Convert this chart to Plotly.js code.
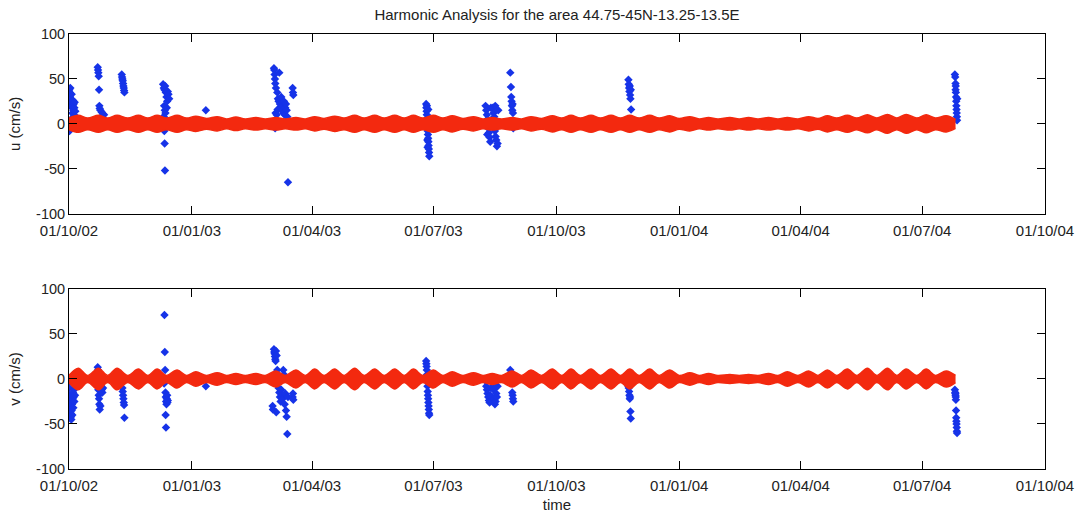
<!DOCTYPE html>
<html>
<head>
<meta charset="utf-8">
<script src="https://cdn.plot.ly/plotly-3.0.1.min.js"></script>
<style>html,body{margin:0;padding:0;background:#fff;}#chart{width:1079px;height:515px;}</style>
</head>
<body>
<div id="chart"></div>
<script>
// ---- Harmonic prediction: envelope (half-width) of the red band ----
const envDates = [
"2002-10-01","2002-10-08","2002-10-15","2002-10-23","2002-10-30","2002-11-06","2002-11-14","2002-11-22","2002-11-29","2002-12-06",
"2002-12-13","2002-12-21","2002-12-28","2003-01-04","2003-01-12","2003-01-20","2003-01-27","2003-02-03","2003-02-10","2003-02-18",
"2003-02-25","2003-03-05","2003-03-12","2003-03-20","2003-03-27","2003-04-03","2003-04-10","2003-04-18","2003-04-25","2003-05-03",
"2003-05-10","2003-05-18","2003-05-25","2003-06-02","2003-06-09","2003-06-16","2003-06-23","2003-07-01","2003-07-08","2003-07-15",
"2003-07-23","2003-07-31","2003-08-07","2003-08-14","2003-08-21","2003-08-29","2003-09-05","2003-09-12","2003-09-20","2003-09-28",
"2003-10-05","2003-10-12","2003-10-19","2003-10-27","2003-11-03","2003-11-11","2003-11-18","2003-11-25","2003-12-02","2003-12-10",
"2003-12-17","2003-12-25","2004-01-01","2004-01-09","2004-01-16","2004-01-23","2004-01-30","2004-02-08","2004-02-15","2004-02-22",
"2004-02-29","2004-03-08","2004-03-15","2004-03-22","2004-03-30","2004-04-07","2004-04-14","2004-04-21","2004-04-28","2004-05-06",
"2004-05-13","2004-05-21","2004-05-28","2004-06-05","2004-06-12","2004-06-19","2004-06-27","2004-07-04","2004-07-11","2004-07-19",
"2004-07-26"];
const uEnvHalf = [
6.5,9.5,6.5,9.5,6.5,9.5,6.5,9.5,6.5,9.5,
6.5,9.5,6.5,8.5,6,8,5.5,7.5,5.5,7,
5.5,7,5.5,7,5.5,8,6,8.5,6.5,9.5,
6.5,9.5,6.5,9.5,6.5,9.5,6.5,9.5,6.5,9,
6,8,5.5,7,5.5,7,5.5,8,6,9,
6.5,9.5,6.5,9.5,6.5,9.5,6.5,9.5,6.5,9.5,
6.5,9,6,8,5.5,7,5.5,7,5.5,7,
5.5,7,5.5,7,5.5,8,6,9,6.5,9.5,
6.5,10,6.5,10.5,6.5,10.5,6.5,10,6.5,9,
5];
const vEnvHalf = [
4,12,4,12,4,12,4,11,4,11,
4,10,4,8,4,7,4,6,4,6,
4,9,4,10,4,11,4,11,4,12,
4,11,4,11,4,11,4,10,4,8,
4,7,4,6,4,9,4,10,4,11,
4,11,4,11,4,11,4,11,4,11,
4,10,4,7,4,6,4,5,4,5,
4,6,4,8,4,9,4,10,4,11,
4,12,4,12,4,11,4,11,4,9,
4];

// ---- Observed u (cm/s) ----
const uObsTime = [
"2002-10-01 00:00","2002-10-01 03:00","2002-10-01 06:00","2002-10-01 09:00","2002-10-01 12:00","2002-10-01 18:00","2002-10-02 00:00","2002-10-02 06:00","2002-10-02 09:00","2002-10-02 12:00",
"2002-10-02 18:00","2002-10-03 00:00","2002-10-03 06:00","2002-10-03 12:00","2002-10-03 18:00","2002-10-04 00:00","2002-10-04 06:00","2002-10-04 12:00","2002-10-04 18:00","2002-10-05 00:00",
"2002-10-05 06:00","2002-10-05 18:00",
"2002-10-22 12:00","2002-10-22 18:00","2002-10-23 00:00","2002-10-23 06:00","2002-10-23 12:00","2002-10-23 18:00","2002-10-24 00:00","2002-10-24 12:00","2002-10-25 12:00","2002-10-26 12:00","2002-10-27 06:00",
"2002-11-09 12:00","2002-11-09 18:00","2002-11-10 00:00","2002-11-10 06:00","2002-11-10 12:00","2002-11-10 18:00","2002-11-11 00:00","2002-11-11 06:00","2002-11-11 12:00",
"2002-12-10 12:00","2002-12-10 18:00","2002-12-11 00:00","2002-12-11 06:00","2002-12-11 09:00","2002-12-11 12:00","2002-12-11 15:00","2002-12-11 18:00","2002-12-11 21:00","2002-12-12 00:00",
"2002-12-12 06:00","2002-12-12 12:00","2002-12-12 18:00","2002-12-13 00:00","2002-12-13 06:00","2002-12-13 12:00","2002-12-14 00:00","2002-12-14 12:00","2002-12-15 00:00",
"2003-01-11 12:00",
"2003-03-03 12:00","2003-03-03 18:00","2003-03-04 00:00","2003-03-04 06:00","2003-03-04 09:00","2003-03-04 12:00","2003-03-04 18:00","2003-03-05 00:00","2003-03-05 12:00","2003-03-06 00:00",
"2003-03-06 06:00","2003-03-06 12:00","2003-03-07 00:00","2003-03-07 12:00","2003-03-08 00:00","2003-03-08 12:00","2003-03-09 00:00","2003-03-09 12:00","2003-03-10 00:00","2003-03-10 12:00",
"2003-03-11 00:00","2003-03-11 12:00","2003-03-12 00:00","2003-03-12 12:00","2003-03-13 00:00","2003-03-13 12:00","2003-03-14 00:00","2003-03-17 12:00","2003-03-17 18:00","2003-03-18 00:00",
"2003-06-25 12:00","2003-06-25 16:00","2003-06-25 20:00","2003-06-26 00:00","2003-06-26 02:00","2003-06-26 04:00","2003-06-26 08:00","2003-06-26 10:00","2003-06-26 12:00","2003-06-26 14:00",
"2003-06-26 16:00","2003-06-26 20:00","2003-06-27 00:00","2003-06-27 02:00","2003-06-27 04:00","2003-06-27 08:00","2003-06-27 12:00","2003-06-27 16:00","2003-06-27 20:00",
"2003-08-09 00:00","2003-08-09 12:00","2003-08-10 00:00","2003-08-10 06:00","2003-08-10 12:00","2003-08-11 00:00","2003-08-11 12:00","2003-08-12 00:00","2003-08-12 12:00","2003-08-13 00:00",
"2003-08-14 12:00","2003-08-15 00:00","2003-08-15 12:00","2003-08-16 00:00","2003-08-16 06:00","2003-08-16 12:00","2003-08-17 00:00","2003-08-17 12:00","2003-08-18 00:00","2003-08-18 12:00",
"2003-08-27 12:00","2003-08-28 00:00","2003-08-28 06:00","2003-08-28 12:00","2003-08-28 18:00","2003-08-29 00:00","2003-08-29 06:00","2003-08-29 12:00","2003-08-29 18:00",
"2003-11-24 00:00","2003-11-24 06:00","2003-11-24 12:00","2003-11-24 18:00","2003-11-25 00:00","2003-11-25 06:00","2003-11-25 12:00","2003-11-25 18:00","2003-11-26 00:00",
"2004-07-25 12:00","2004-07-25 18:00","2004-07-26 00:00","2004-07-26 01:00","2004-07-26 03:00","2004-07-26 06:00","2004-07-26 09:00","2004-07-26 12:00","2004-07-26 15:00","2004-07-26 18:00",
"2004-07-26 21:00","2004-07-27 00:00","2004-07-27 03:00","2004-07-27 06:00"];
const uObsVal = [
2,-3,38,-8,35,30,40,28,5,22,
25,33,18,12,20,26,15,22,10,18,
24,14,
63,60,57,53,38,20,17,15,13,11,10,
55,52,50,48,45,42,40,37,35,
44,8,40,20,-8,38,-22,15,-52,42,
12,35,5,30,18,25,36,33,28,
15,
62,60,55,50,-5,45,12,40,10,35,
16,28,25,57,22,18,30,15,20,12,
25,10,18,22,15,8,-65,40,35,32,
22,18,14,10,20,6,2,-18,-4,-26,
-8,-12,-16,16,-20,-24,-28,-32,-36,
20,15,10,-12,5,-5,-10,-15,-20,18,
18,12,8,-8,20,-14,-18,-25,-22,15,
57,41,30,25,20,15,22,12,-5,
49,44,40,36,42,32,28,38,16,
55,52,45,38,42,35,30,25,20,16,
12,8,4,28];

// ---- Observed v (cm/s) ----
const vObsTime = [
"2002-10-01 00:00","2002-10-01 06:00","2002-10-01 12:00","2002-10-01 18:00","2002-10-02 00:00","2002-10-02 06:00","2002-10-02 12:00","2002-10-02 18:00","2002-10-03 00:00","2002-10-03 06:00",
"2002-10-03 12:00","2002-10-03 18:00","2002-10-04 00:00","2002-10-04 06:00","2002-10-04 12:00","2002-10-04 18:00","2002-10-05 00:00","2002-10-05 12:00","2002-10-06 00:00",
"2002-10-22 12:00","2002-10-22 18:00","2002-10-23 00:00","2002-10-23 06:00","2002-10-23 12:00","2002-10-23 18:00","2002-10-24 00:00","2002-10-24 12:00","2002-10-25 00:00","2002-10-25 12:00",
"2002-10-26 00:00","2002-10-26 12:00",
"2002-11-10 00:00","2002-11-10 06:00","2002-11-10 12:00","2002-11-10 18:00","2002-11-11 00:00","2002-11-11 06:00","2002-11-11 12:00",
"2002-12-11 06:00","2002-12-11 12:00","2002-12-11 18:00","2002-12-12 00:00","2002-12-12 06:00","2002-12-12 09:00","2002-12-12 12:00","2002-12-12 15:00","2002-12-12 18:00","2002-12-13 00:00",
"2002-12-13 06:00","2002-12-13 12:00","2002-12-13 18:00","2002-12-14 00:00",
"2003-01-11 12:00",
"2003-03-02 12:00","2003-03-02 18:00","2003-03-03 12:00","2003-03-03 18:00","2003-03-04 00:00","2003-03-04 06:00","2003-03-04 12:00","2003-03-04 18:00","2003-03-05 00:00","2003-03-05 06:00",
"2003-03-05 12:00","2003-03-06 00:00","2003-03-06 12:00","2003-03-07 00:00","2003-03-07 12:00","2003-03-08 00:00","2003-03-08 12:00","2003-03-09 00:00","2003-03-09 12:00","2003-03-10 00:00",
"2003-03-10 12:00","2003-03-11 00:00","2003-03-11 12:00","2003-03-12 00:00","2003-03-12 12:00","2003-03-13 00:00","2003-03-13 12:00","2003-03-14 00:00","2003-03-17 12:00","2003-03-17 18:00",
"2003-03-18 00:00",
"2003-06-25 12:00","2003-06-25 16:00","2003-06-25 20:00","2003-06-26 00:00","2003-06-26 04:00","2003-06-26 08:00","2003-06-26 12:00","2003-06-26 16:00","2003-06-26 20:00","2003-06-27 00:00",
"2003-06-27 04:00","2003-06-27 08:00","2003-06-27 12:00","2003-06-27 16:00","2003-06-27 20:00",
"2003-08-09 00:00","2003-08-09 12:00","2003-08-10 00:00","2003-08-10 12:00","2003-08-11 00:00","2003-08-11 12:00","2003-08-12 00:00","2003-08-12 12:00","2003-08-13 00:00","2003-08-14 12:00",
"2003-08-15 00:00","2003-08-15 12:00","2003-08-16 00:00","2003-08-16 12:00","2003-08-17 00:00","2003-08-17 12:00","2003-08-18 00:00",
"2003-08-27 12:00","2003-08-28 00:00","2003-08-28 12:00","2003-08-29 00:00","2003-08-29 06:00","2003-08-29 12:00","2003-08-29 18:00",
"2003-11-24 00:00","2003-11-24 06:00","2003-11-24 12:00","2003-11-24 18:00","2003-11-25 00:00","2003-11-25 06:00","2003-11-25 12:00","2003-11-25 18:00",
"2004-07-25 12:00","2004-07-25 18:00","2004-07-25 21:00","2004-07-26 00:00","2004-07-26 03:00","2004-07-26 06:00","2004-07-26 09:00","2004-07-26 12:00","2004-07-26 15:00","2004-07-26 18:00",
"2004-07-26 21:00","2004-07-27 00:00","2004-07-27 03:00"];
const vObsVal = [
-3,-10,-18,-25,-30,-38,-42,-45,-35,-28,
-40,-22,-15,-32,-20,-12,-25,-18,-8,
13,10,-12,-18,-22,-28,-34,-30,-8,-12,
-15,-10,
-10,-14,-18,-22,-26,-29,-43,
-5,71,30,10,-15,-40,-20,-54,-25,-28,
-22,-18,-26,-24,
-8,
-30,-34,33,30,28,25,22,20,31,-37,
26,10,0,-10,-15,-20,-25,-12,-18,-22,
10,5,-28,-16,-35,-42,-61,-20,-20,-16,
-23,
20,17,14,10,5,-2,-8,-14,-18,-22,
-26,-30,-34,-38,-40,
-2,-8,-12,-16,-20,-24,-26,-18,-10,-5,
-12,-22,-28,-25,-16,-20,-8,
10,6,-2,-15,-18,-22,-25,
-8,-10,-14,-18,-22,-20,-36,-44,
-12,-15,-16,-18,-20,-23,-35,-43,-47,-50,
-54,-58,-60];

// ---- Axis ticks ----
const xTickVals = ["2002-10-01","2003-01-01","2003-04-01","2003-07-01","2003-10-01","2004-01-01","2004-04-01","2004-07-01","2004-10-01"];
const xTickText = ["01/10/02","01/01/03","01/04/03","01/07/03","01/10/03","01/01/04","01/04/04","01/07/04","01/10/04"];
const yTickVals = [-100,-50,0,50,100];
const yTickText = ["-100","-50","0","50","100"];

const BLUE = "#1633e8";
const RED = "#f3290f";
const FONT = "Liberation Sans, Arial, sans-serif";

function neg(a){ return a.map(v => -v); }

const traces = [
  {x:uObsTime, y:uObsVal, xaxis:"x", yaxis:"y", type:"scatter", mode:"markers",
   marker:{symbol:"diamond", size:6.5, color:BLUE}},
  {x:envDates, y:neg(uEnvHalf), xaxis:"x", yaxis:"y", type:"scatter", mode:"lines",
   line:{color:RED, width:1.5, shape:"spline", smoothing:1}},
  {x:envDates, y:uEnvHalf, xaxis:"x", yaxis:"y", type:"scatter", mode:"lines", fill:"tonexty", fillcolor:RED,
   line:{color:RED, width:1.5, shape:"spline", smoothing:1}},
  {x:vObsTime, y:vObsVal, xaxis:"x2", yaxis:"y2", type:"scatter", mode:"markers",
   marker:{symbol:"diamond", size:6.5, color:BLUE}},
  {x:envDates, y:neg(vEnvHalf), xaxis:"x2", yaxis:"y2", type:"scatter", mode:"lines",
   line:{color:RED, width:1.5, shape:"spline", smoothing:1}},
  {x:envDates, y:vEnvHalf, xaxis:"x2", yaxis:"y2", type:"scatter", mode:"lines", fill:"tonexty", fillcolor:RED,
   line:{color:RED, width:1.5, shape:"spline", smoothing:1}}
];

const xCommon = {
  type:"date", range:["2002-10-01","2004-10-01"], tickmode:"array", tickvals:xTickVals, ticktext:xTickText,
  ticks:"inside", ticklen:8, tickcolor:"#000", mirror:"ticks", showline:true, linecolor:"#000", linewidth:1,
  showgrid:false, zeroline:false, tickfont:{family:FONT, size:15, color:"#222"}, fixedrange:true,
  ticklabelstandoff:3
};
const yCommon = {
  range:[-100,100], tickmode:"array", tickvals:yTickVals, ticktext:yTickText,
  ticks:"inside", ticklen:8, tickcolor:"#000", mirror:"ticks", showline:true, linecolor:"#000", linewidth:1,
  showgrid:false, zeroline:false, tickfont:{family:FONT, size:14.5, color:"#222"}, fixedrange:true
};

const layout = {
  width:1079, height:515,
  margin:{l:69, r:34, t:34, b:46},
  paper_bgcolor:"#fff", plot_bgcolor:"#fff",
  showlegend:false,
  font:{family:FONT, color:"#222"},
  title:{text:"Harmonic Analysis for the area 44.75-45N-13.25-13.5E", font:{family:FONT, size:15, color:"#222"},
         x:0.5, xref:"paper", y:1-15/515, yref:"container", yanchor:"middle"},
  xaxis:Object.assign({}, xCommon, {anchor:"y", domain:[0,1]}),
  yaxis:Object.assign({}, yCommon, {anchor:"x", domain:[0.587,1],
         title:{text:"u (cm/s)", font:{family:FONT, size:15, color:"#222"}, standoff:11}}),
  xaxis2:Object.assign({}, xCommon, {anchor:"y2", domain:[0,1],
         title:{text:"time", font:{family:FONT, size:15, color:"#222"}, standoff:6}}),
  yaxis2:Object.assign({}, yCommon, {anchor:"x2", domain:[0,0.4138],
         title:{text:"v (cm/s)", font:{family:FONT, size:15, color:"#222"}, standoff:11}})
};

Plotly.newPlot("chart", traces, layout, {displayModeBar:false, staticPlot:true});
</script>
</body>
</html>
